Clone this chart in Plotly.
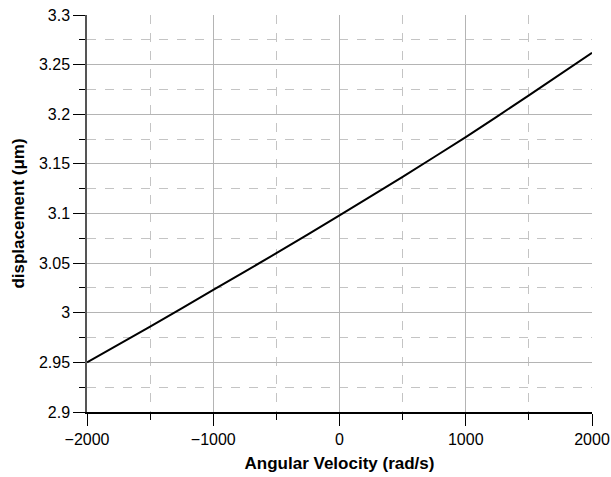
import plotly.graph_objects as go

omega = [-2000, -1500, -1000, -500, 0, 500, 1000, 1500, 2000]
displacement = [2.950, 2.986, 3.023, 3.060, 3.098, 3.137, 3.177, 3.219, 3.262]

fig = go.Figure()
fig.add_trace(go.Scatter(x=omega, y=displacement, mode="lines",
                         line=dict(color="black", width=2, shape="spline", smoothing=0.6),
                         showlegend=False))

font = dict(family="Liberation Sans, Arial, sans-serif", size=16, color="black")

fig.update_layout(
    width=611, height=477,
    margin=dict(l=87, r=19, t=15, b=65),
    paper_bgcolor="white", plot_bgcolor="white",
    font=font,
)
fig.update_xaxes(
    range=[-2000, 2000], dtick=1000, tick0=0, automargin=False,
    showline=True, linecolor="black", linewidth=1.5,
    ticks="outside", ticklen=12, tickcolor="black", tickwidth=1,
    showgrid=True, gridcolor="#b4b4b4", gridwidth=1,
    zeroline=False,
    minor=dict(dtick=500, tick0=0, ticks="outside", ticklen=6, tickcolor="black",
               showgrid=True, gridcolor="#c4c4c4", griddash="dash", gridwidth=1),
    title=dict(text="<b>Angular Velocity (rad/s)</b>", font=dict(size=17), standoff=10),
)
fig.update_yaxes(
    range=[2.9, 3.3], dtick=0.05, tick0=2.9, automargin=False,
    showline=True, linecolor="#555555", linewidth=1.5,
    ticks="outside", ticklen=12, tickcolor="black", tickwidth=1,
    showgrid=True, gridcolor="#b4b4b4", gridwidth=1,
    zeroline=False,
    minor=dict(dtick=0.025, tick0=2.9, ticks="outside", ticklen=6, tickcolor="black",
               showgrid=True, gridcolor="#c4c4c4", griddash="dash", gridwidth=1),
    title=dict(text="<b>displacement (μm)</b>", font=dict(size=17), standoff=10),
)

fig.write_html("out.html")
